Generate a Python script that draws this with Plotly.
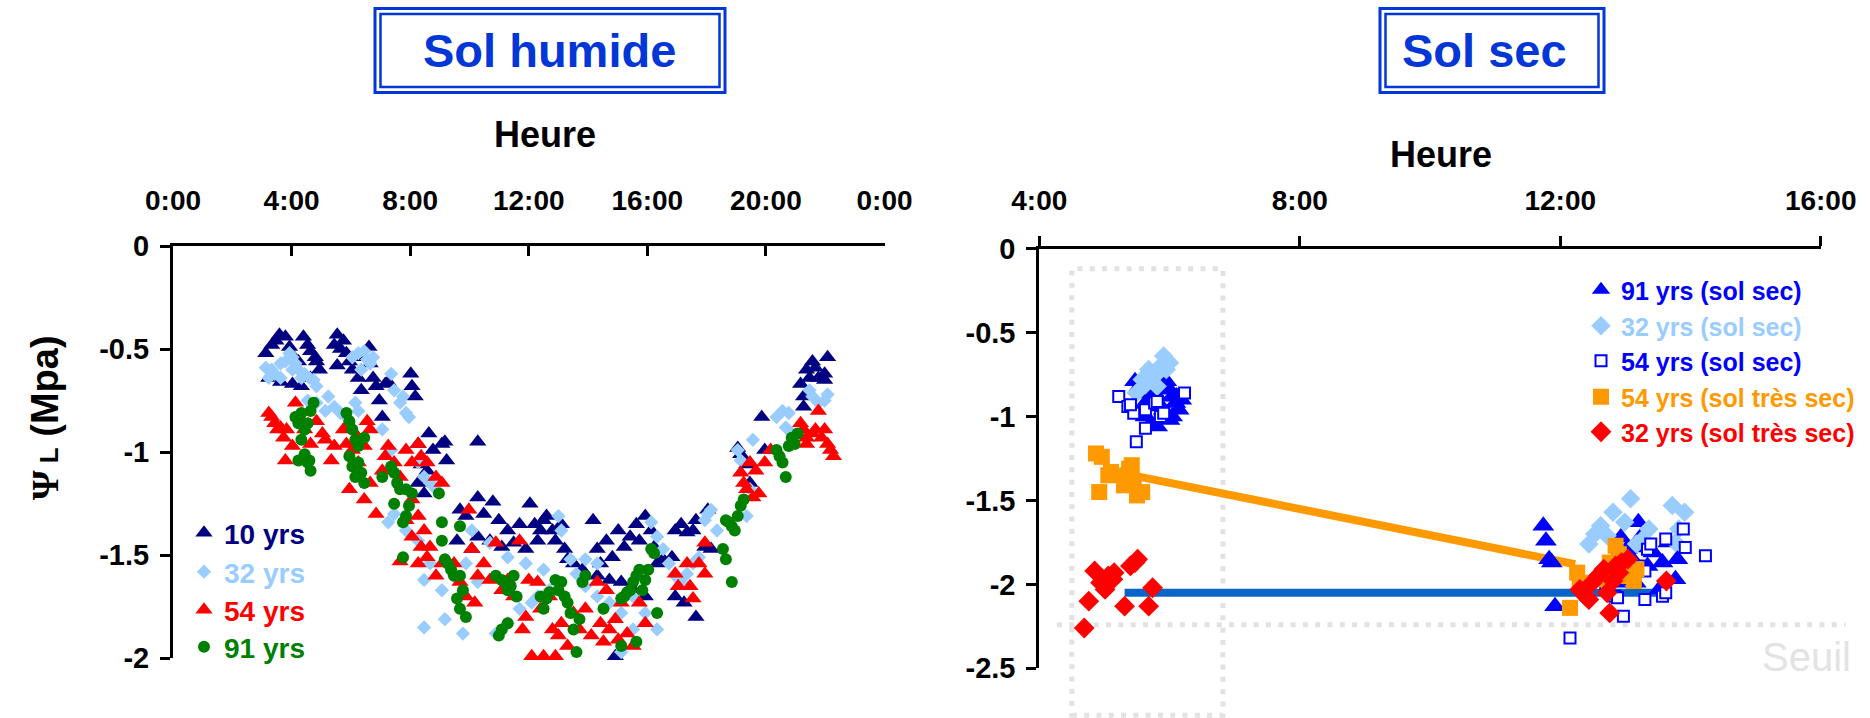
import plotly.graph_objects as go

W, H = 1870, 718
FONT = "Liberation Sans, Arial, sans-serif"
BLUE_T = "#0336D6"

# ---------------- Left panel : Sol humide ----------------
hour_ticks_left = [0, 4, 8, 12, 16, 20, 24]
hour_labels_left = ["0:00", "4:00", "8:00", "12:00", "16:00", "20:00", "0:00"]
psi_ticks_left = [0, -0.5, -1, -1.5, -2]
psi_labels_left = ["0", "-0.5", "-1", "-1.5", "-2"]

# 10 yrs
h10 = [3.13,3.33,3.47,3.59,3.79,3.93,4.03,4.23,4.40,4.54,4.64,4.80,4.84,4.13,3.23,3.63,4.03,4.33,4.64,4.94,
       5.54,5.44,5.65,5.75,5.85,5.95,5.54,6.05,6.25,6.35,6.45,6.61,6.65,6.75,6.85,6.96,7.06,7.16,7.26,8.02,8.06,8.17,
       8.27,8.63,8.77,9.07,9.23,9.17,10.28,8.37,8.57,8.27,8.47,
       9.68,9.88,10.28,10.48,10.79,10.99,11.29,11.49,11.69,12.04,12.20,12.40,12.50,12.60,12.80,12.90,13.10,13.21,13.31,
       9.58,10.08,10.28,10.69,11.09,11.90,12.30,13.51,13.81,
       14.17,14.31,14.42,14.62,14.82,15.02,15.22,15.42,15.63,15.73,15.93,16.13,16.23,16.33,16.53,16.83,16.94,17.14,17.34,17.54,17.64,17.94,18.15,
       14.31,14.72,15.12,15.52,15.93,16.94,17.24,17.64,14.92,
       18.04,19.05,19.15,19.35,19.46,19.86,19.96,21.17,21.27,21.37,21.57,21.67,21.77,21.98,22.08,21.47,21.27,21.98]
v10 = [-0.52,-0.48,-0.46,-0.43,-0.44,-0.49,-0.53,-0.56,-0.44,-0.48,-0.51,-0.54,-0.56,-0.59,-0.64,-0.66,-0.67,-0.68,-0.64,-0.60,
       -0.43,-0.48,-0.50,-0.46,-0.52,-0.56,-0.58,-0.60,-0.64,-0.70,-0.54,-0.49,-0.57,-0.64,-0.68,-0.75,-0.83,-0.67,-0.66,-0.62,-0.68,-0.73,
       -0.96,-0.91,-0.99,-0.96,-1.04,-0.95,-0.95,-1.06,-1.09,-1.15,-1.20,
       -1.28,-1.31,-1.22,-1.30,-1.24,-1.33,-1.38,-1.44,-1.35,-1.25,-1.35,-1.38,-1.33,-1.31,-1.38,-1.43,-1.35,-1.47,-1.52,
       -1.43,-1.47,-1.41,-1.43,-1.46,-1.47,-1.43,-1.54,-1.57,
       -1.33,-1.47,-1.54,-1.43,-1.51,-1.38,-1.46,-1.41,-1.35,-1.43,-1.31,-1.38,-1.46,-1.54,-1.52,-1.51,-1.38,-1.35,-1.39,-1.38,-1.33,-1.46,-1.47,
       -1.60,-1.62,-1.63,-1.67,-1.70,-1.70,-1.73,-1.80,-1.99,
       -1.28,-0.98,-1.01,-1.06,-1.15,-0.83,-0.99,-0.67,-0.73,-0.60,-0.56,-0.59,-0.64,-0.62,-0.54,-0.64,-0.78,-0.65]

# 32 yrs
h32 = [3.13,3.33,3.43,3.63,3.79,3.93,4.03,4.13,4.23,4.44,4.60,4.74,4.84,3.23,3.63,4.03,4.33,
       4.54,4.84,5.14,5.24,5.44,5.65,5.85,6.15,6.25,
       6.05,6.25,6.45,6.55,6.65,6.35,6.75,
       7.36,7.46,7.66,7.86,7.96,7.76,
       7.06,7.36,8.27,8.47,8.67,8.87,7.26,7.46,7.86,8.27,8.47,8.67,9.07,9.48,9.88,10.28,9.17,9.78,8.47,10.89,11.29,11.69,12.10,12.30,12.70,
       13.00,13.10,13.41,13.61,13.91,14.31,14.72,15.12,15.52,15.12,
       16.13,16.33,16.53,16.73,16.94,17.14,17.34,17.54,17.74,17.94,18.04,18.15,18.35,16.33,15.93,15.52,14.31,13.91,
       10.08,10.69,11.29,11.90,12.50,
       19.05,19.15,19.56,19.35,19.46,20.36,20.56,20.77,20.67,20.87,21.47,21.57,21.77,21.98,22.08]
v32 = [-0.59,-0.60,-0.62,-0.57,-0.56,-0.52,-0.54,-0.57,-0.60,-0.62,-0.64,-0.65,-0.68,-0.64,-0.64,-0.60,-0.64,
       -0.75,-0.76,-0.80,-0.73,-0.78,-0.81,-0.83,-0.76,-0.80,
       -0.54,-0.52,-0.51,-0.55,-0.57,-0.60,-0.54,
       -0.62,-0.70,-0.76,-0.81,-0.83,-0.73,
       -0.89,-0.99,-1.05,-1.12,-1.15,-1.18,-1.34,-1.30,-1.38,-1.43,-1.62,-1.54,-1.67,-1.60,-1.54,-1.63,-1.81,-1.88,-1.85,-1.88,-1.83,-1.76,-1.73,-1.70,-1.67,
       -1.31,-1.38,-1.52,-1.59,-1.65,-1.70,-1.73,-1.78,-1.86,-1.97,
       -1.34,-1.41,-1.47,-1.54,-1.60,-1.63,-1.59,-1.54,-1.51,-1.33,-1.30,-1.28,-1.38,-1.86,-1.78,-1.70,-1.54,-1.52,
       -1.38,-1.44,-1.51,-1.54,-1.57,
       -0.99,-1.04,-0.94,-1.31,-1.18,-0.83,-0.80,-0.81,-0.88,-0.91,-0.70,-0.73,-0.76,-0.75,-0.72]

# 54 yrs
h54 = [3.23,3.33,3.43,3.53,3.63,3.73,3.83,4.03,3.79,4.13,4.23,4.44,4.64,4.84,5.04,5.14,5.34,5.44,5.75,5.85,
       6.05,6.25,6.45,6.55,6.65,6.25,5.95,6.45,6.85,6.65,7.06,7.16,7.26,7.46,7.66,7.86,8.06,8.27,8.37,8.57,
       8.87,9.07,8.06,8.27,8.47,8.67,9.07,8.37,8.57,8.87,7.86,8.06,8.27,7.66,
       9.48,9.68,9.88,10.08,10.18,10.28,10.48,10.69,10.89,11.09,11.29,11.49,11.69,11.79,11.90,12.00,12.10,12.30,12.40,12.50,
       12.70,12.80,12.90,13.00,13.10,13.31,13.51,13.71,13.91,14.11,14.31,14.42,14.52,14.62,14.72,14.92,15.02,15.12,15.32,15.52,
       15.73,15.93,16.94,17.04,17.34,17.44,17.54,17.74,17.94,17.94,9.98,
       19.15,19.25,19.35,19.46,19.56,19.66,19.76,19.96,20.16,21.17,21.27,21.37,21.57,21.67,21.77,21.88,22.08,22.18,22.28,21.37,21.98]
v54 = [-0.81,-0.83,-0.86,-0.89,-0.88,-0.93,-0.89,-0.97,-1.04,-0.76,-0.83,-0.89,-0.96,-0.85,-0.91,-0.94,-1.04,-0.97,-0.89,-0.96,
       -0.99,-0.93,-0.97,-0.85,-0.89,-1.05,-1.18,-1.23,-1.30,-1.15,-1.09,-1.02,-0.97,-1.05,-1.12,-0.99,-1.05,-0.96,-1.02,-1.05,
       -1.12,-1.15,-1.23,-1.31,-1.38,-1.46,-1.54,-1.46,-1.51,-1.60,-1.33,-1.41,-1.54,-1.53,
       -1.54,-1.63,-1.70,-1.47,-1.73,-1.60,-1.54,-1.62,-1.44,-1.67,-1.62,-1.70,-1.43,-1.86,-1.80,-1.62,-1.99,-1.63,-1.76,-1.99,
       -1.70,-1.86,-1.99,-1.89,-1.83,-1.94,-1.78,-1.86,-1.76,-1.89,-1.63,-1.83,-1.92,-1.67,-1.86,-1.81,-1.91,-1.73,-1.88,-1.94,
       -1.73,-1.83,-1.59,-1.65,-1.54,-1.65,-1.71,-1.54,-1.44,-1.59,-1.28,
       -1.10,-1.15,-1.18,-1.05,-1.22,-1.09,-1.20,-1.05,-0.99,-0.86,-0.89,-0.93,-0.91,-0.89,-0.80,-0.93,-0.96,-0.99,-1.02,-0.96,-0.89]

# 91 yrs
h91 = [4.13,4.23,4.33,4.44,4.54,4.64,4.74,4.33,4.23,4.44,4.54,4.64,4.60,
       5.85,5.95,6.05,6.15,6.25,6.45,5.95,6.05,6.15,6.25,6.45,6.35,7.06,7.36,7.46,7.56,7.66,7.86,8.06,7.96,7.46,7.86,7.76,8.97,9.07,9.07,9.68,7.76,
       9.17,9.27,9.38,9.48,9.68,9.78,9.58,9.68,9.88,10.89,11.09,11.19,11.29,11.39,11.49,11.59,11.09,11.29,10.99,
       12.40,12.50,12.60,12.70,12.90,13.00,13.10,13.21,13.31,13.41,13.51,13.61,13.71,13.81,13.91,14.52,
       15.12,15.22,15.32,15.42,15.52,15.63,15.73,15.83,15.93,16.03,16.13,16.23,16.33,15.12,15.63,
       18.55,18.65,18.85,18.65,18.75,18.85,18.95,19.05,19.15,19.25,20.36,20.46,20.56,20.67,20.77,20.87,20.97,21.07]
v91 = [-0.83,-0.86,-0.81,-0.89,-0.86,-0.80,-0.76,-0.94,-1.04,-1.01,-1.05,-1.09,-1.04,
       -0.81,-0.85,-0.89,-0.94,-0.97,-0.93,-1.02,-1.07,-1.12,-1.05,-1.15,-1.10,-1.12,-1.07,-1.10,-1.15,-1.18,-1.18,-1.20,-1.26,-1.25,-1.31,-1.34,-1.20,-1.34,-1.43,-1.36,-1.51,
       -1.52,-1.54,-1.57,-1.60,-1.60,-1.67,-1.71,-1.76,-1.80,-1.60,-1.62,-1.63,-1.67,-1.65,-1.60,-1.70,-1.86,-1.83,-1.89,
       -1.70,-1.76,-1.71,-1.68,-1.62,-1.67,-1.63,-1.70,-1.73,-1.78,-1.86,-1.97,-1.81,-1.63,-1.60,-1.76,
       -1.71,-1.70,-1.68,-1.67,-1.63,-1.60,-1.57,-1.67,-1.62,-1.57,-1.47,-1.49,-1.78,-1.94,-1.92,
       -1.47,-1.52,-1.63,-1.33,-1.34,-1.36,-1.38,-1.31,-1.26,-1.23,-0.99,-1.02,-1.05,-1.12,-0.97,-0.93,-0.96,-0.91]

# ---------------- Right panel : Sol sec ----------------
hour_ticks_right = [4, 8, 12, 16]
hour_labels_right = ["4:00", "8:00", "12:00", "16:00"]
psi_ticks_right = [0, -0.5, -1, -1.5, -2, -2.5]
psi_labels_right = ["0", "-0.5", "-1", "-1.5", "-2", "-2.5"]

h91s = [5.47,5.54,5.63,5.72,5.81,5.91,5.95,6.00,6.04,6.09,6.14,6.04,6.00,5.81,5.72,5.63,5.77,5.91,6.11,6.18,5.63,
        11.74,11.78,11.83,11.87,11.92,12.93,13.02,13.11,13.20,13.25,13.30,13.34,13.16,13.43,13.52,13.66,13.77,13.80,13.57,13.07,12.84]
v91s = [-0.79,-0.82,-0.86,-0.84,-0.88,-0.82,-0.79,-0.84,-0.88,-0.92,-0.96,-1.00,-1.02,-1.06,-1.04,-1.00,-0.94,-0.96,-0.88,-0.90,-0.92,
        -1.65,-1.74,-1.85,-1.87,-2.13,-1.72,-1.79,-1.85,-1.63,-1.71,-1.78,-1.89,-1.99,-1.81,-2.03,-1.75,-1.97,-1.85,-1.87,-1.87,-1.99]

h32s = [5.49,5.58,5.68,5.77,5.86,5.91,5.95,6.00,5.81,5.63,
        12.44,12.53,12.62,12.72,12.81,12.99,13.08,13.17,13.27,13.36,13.72,13.91,13.82,13.77]
v32s = [-0.86,-0.78,-0.72,-0.76,-0.70,-0.64,-0.72,-0.68,-0.82,-0.81,
        -1.76,-1.70,-1.65,-1.71,-1.57,-1.63,-1.49,-1.76,-1.73,-1.67,-1.53,-1.57,-1.67,-1.75]

h54s = [5.22,5.36,5.45,5.49,5.63,5.77,5.86,5.91,5.63,6.23,5.81,5.40,
        12.15,12.70,12.74,12.84,12.97,13.20,13.30,13.34,13.39,13.30,13.57,13.62,13.62,13.89,13.92,14.23,12.88,13.07]
v54s = [-0.88,-0.94,-0.98,-1.15,-0.96,-0.92,-1.00,-0.98,-1.07,-0.86,-0.91,-0.93,
        -2.32,-2.03,-1.99,-2.07,-2.19,-1.89,-1.92,-1.79,-1.76,-2.09,-2.07,-2.05,-1.73,-1.67,-1.78,-1.83,-2.08,-1.97]

h54ts = [4.87,4.96,4.92,5.06,5.10,5.35,5.38,5.42,5.45,5.50,5.58,5.30,
         12.15,12.26,12.30,12.85,12.90,12.94,13.04,13.13,13.17,12.76,12.62]
v54ts = [-1.22,-1.24,-1.45,-1.35,-1.33,-1.35,-1.31,-1.29,-1.39,-1.47,-1.45,-1.41,
         -2.14,-1.93,-1.99,-1.77,-1.82,-1.89,-1.95,-1.98,-1.91,-1.87,-1.97]

h32ts = [4.69,4.76,4.85,4.94,5.06,5.13,5.01,5.31,5.40,5.51,5.47,5.68,5.74,5.15,
         12.30,12.39,12.49,12.58,12.67,12.72,12.76,12.85,12.94,13.04,12.81,13.63,12.44,12.90]
v32ts = [-2.26,-2.10,-1.92,-1.99,-1.95,-1.97,-2.03,-2.13,-1.89,-1.85,-1.87,-2.13,-2.02,-1.93,
         -2.03,-2.07,-1.99,-1.95,-1.91,-2.05,-2.17,-1.89,-1.87,-1.85,-1.98,-1.98,-2.09,-1.93]

# mean lines
orange_line_h = [5.16, 12.23]
orange_line_v = [-1.33, -1.88]
blue_line_h = [5.31, 13.54]
blue_line_v = [-2.05, -2.05]

seuil = -2.24
box_h = [4.50, 6.82]
box_v = [-0.12, -2.78]
seuil_h = [4.27, 16.38]

# ---------------- geometry ----------------
def px2x(px):
    return px / W

def px2y(py):
    return 1 - py / H

L_XDOM = [px2x(173), px2x(884.5)]
L_YDOM = [px2y(658.3), px2y(246)]
R_XDOM = [px2x(1039.3), px2x(1820.7)]
R_YDOM = [px2y(668.3), px2y(248.7)]
L_XR, L_YR = [0, 24], [-2, 0]
R_XR, R_YR = [4, 16], [-2.5, 0]

def rx(h):
    return R_XDOM[0] + (h - R_XR[0]) / (R_XR[1] - R_XR[0]) * (R_XDOM[1] - R_XDOM[0])

def ry(v):
    return R_YDOM[0] + (v - R_YR[0]) / (R_YR[1] - R_YR[0]) * (R_YDOM[1] - R_YDOM[0])

fig = go.Figure()
legends = {}

def colored(txt, col):
    return "<span style='color:%s'>%s</span>" % (col, txt)

def pts(x, y, name, col, sym, size, xa, ya, leg_px, fsize, lcol=None, lw=0):
    lid = "legend" if not legends else "legend%d" % (len(legends) + 1)
    legends[lid] = dict(x=px2x(leg_px[0]), y=px2y(leg_px[1]), xanchor="left", yanchor="middle",
                        font=dict(size=fsize, family=FONT, weight="bold"),
                        bgcolor="rgba(0,0,0,0)", itemsizing="trace")
    fig.add_trace(go.Scatter(
        x=x, y=y, mode="markers", name=colored(name, lcol or col),
        marker=dict(symbol=sym, size=size, color=col,
                    line=dict(width=lw, color=lcol or col)),
        xaxis=xa, yaxis=ya, legend=lid, cliponaxis=False, hoverinfo="skip"))

# left (legend rows)
pts(h10, v10, "10 yrs", "#000080", "triangle-up", 15, "x", "y", (184, 533), 28)
pts(h32, v32, "32 yrs", "#99CCFF", "diamond", 11, "x", "y", (184, 572), 28)
pts(h54, v54, "54 yrs", "#FF0000", "triangle-up", 15, "x", "y", (184, 610), 28)
pts(h91, v91, "91 yrs", "#008000", "circle", 12, "x", "y", (184, 647), 28)

# right lines
fig.add_trace(go.Scatter(x=orange_line_h, y=orange_line_v, mode="lines",
                         line=dict(color="#FF9900", width=8), showlegend=False,
                         xaxis="x2", yaxis="y2", hoverinfo="skip"))
fig.add_trace(go.Scatter(x=blue_line_h, y=blue_line_v, mode="lines",
                         line=dict(color="#0A64C8", width=8), showlegend=False,
                         xaxis="x2", yaxis="y2", hoverinfo="skip"))

pts(h91s, v91s, "91 yrs (sol sec)", "#0000FF", "triangle-up", 19, "x2", "y2", (1581, 290), 25)
pts(h32s, v32s, "32 yrs (sol sec)", "#99CCFF", "diamond", 15, "x2", "y2", (1581, 326), 25)
pts(h54s, v54s, "54 yrs (sol sec)", "#FFFFFF", "square", 11, "x2", "y2", (1581, 361), 25, lcol="#0000FF", lw=2)
pts(h54ts, v54ts, "54 yrs (sol très sec)", "#FF9900", "square", 16, "x2", "y2", (1581, 397), 25)
pts(h32ts, v32ts, "32 yrs (sol très sec)", "#FF0000", "diamond", 16, "x2", "y2", (1581, 432), 25)

axis_common = dict(showline=True, linewidth=3, linecolor="black", showgrid=False,
                   zeroline=False, tickwidth=3, tickcolor="black", ticklen=10,
                   fixedrange=True)

shapes = []
for (a, b) in [(375, 725), (1380, 1604)]:
    shapes.append(dict(type="rect", xref="paper", yref="paper", x0=px2x(a), x1=px2x(b),
                       y0=px2y(92.5), y1=px2y(8.5), line=dict(color=BLUE_T, width=3)))
    shapes.append(dict(type="rect", xref="paper", yref="paper", x0=px2x(a + 5.5), x1=px2x(b - 5.5),
                       y0=px2y(87), y1=px2y(14), line=dict(color=BLUE_T, width=2.5)))
DOT = dict(color="#E2E2E2", width=5, dash="5px,7.3px")
shapes.append(dict(type="line", xref="paper", yref="paper", x0=rx(seuil_h[0]), x1=rx(seuil_h[1]),
                   y0=ry(seuil), y1=ry(seuil), line=DOT, layer="below"))
shapes.append(dict(type="rect", xref="paper", yref="paper", x0=rx(box_h[0]), x1=rx(box_h[1]),
                   y0=ry(box_v[1]), y1=ry(box_v[0]), line=DOT, layer="below"))

annotations = [
    dict(text="Sol humide", x=px2x(549), y=px2y(50), font=dict(size=47, color=BLUE_T)),
    dict(text="Sol sec", x=px2x(1484), y=px2y(50), font=dict(size=47, color=BLUE_T)),
    dict(text="Heure", x=px2x(545), y=px2y(134), font=dict(size=36, color="black")),
    dict(text="Heure", x=px2x(1441), y=px2y(155), font=dict(size=36, color="black")),
    dict(text="<span style='font-family:Liberation Serif'>Ψ</span><span style='font-size:26px'> L</span> (Mpa)",
         x=px2x(45), y=px2y(418), textangle=-90, font=dict(size=38, color="black")),
    dict(text="Seuil", x=px2x(1806), y=px2y(657),
         font=dict(size=40, color="#E3E3E3", weight="normal")),
]
for a in annotations:
    a.update(xref="paper", yref="paper", xanchor="center", yanchor="middle", showarrow=False)

fig.update_layout(
    width=W, height=H, autosize=False,
    margin=dict(l=0, r=0, t=0, b=0, autoexpand=False),
    paper_bgcolor="white", plot_bgcolor="rgba(0,0,0,0)",
    font=dict(family=FONT, weight="bold", color="black"),
    xaxis=dict(domain=L_XDOM, range=L_XR, side="top", anchor="y",
               tickvals=hour_ticks_left, ticktext=hour_labels_left, ticks="inside",
               tickfont=dict(size=28), ticklabelstandoff=22, **axis_common),
    yaxis=dict(domain=L_YDOM, range=L_YR, anchor="x",
               tickvals=psi_ticks_left, ticktext=psi_labels_left, ticks="outside",
               tickfont=dict(size=29), ticklabelstandoff=5, **axis_common),
    xaxis2=dict(domain=R_XDOM, range=R_XR, side="top", anchor="y2",
                tickvals=hour_ticks_right, ticktext=hour_labels_right, ticks="outside",
                tickfont=dict(size=28), ticklabelstandoff=15, **axis_common),
    yaxis2=dict(domain=R_YDOM, range=R_YR, anchor="x2",
                tickvals=psi_ticks_right, ticktext=psi_labels_right, ticks="outside",
                tickfont=dict(size=29), ticklabelstandoff=5, **axis_common),
    shapes=shapes,
    annotations=annotations,
    hovermode=False,
    **legends,
)

fig.write_html("out.html", config={"displayModeBar": False},
               post_script="document.body.style.margin='0';document.body.style.overflow='hidden';")
